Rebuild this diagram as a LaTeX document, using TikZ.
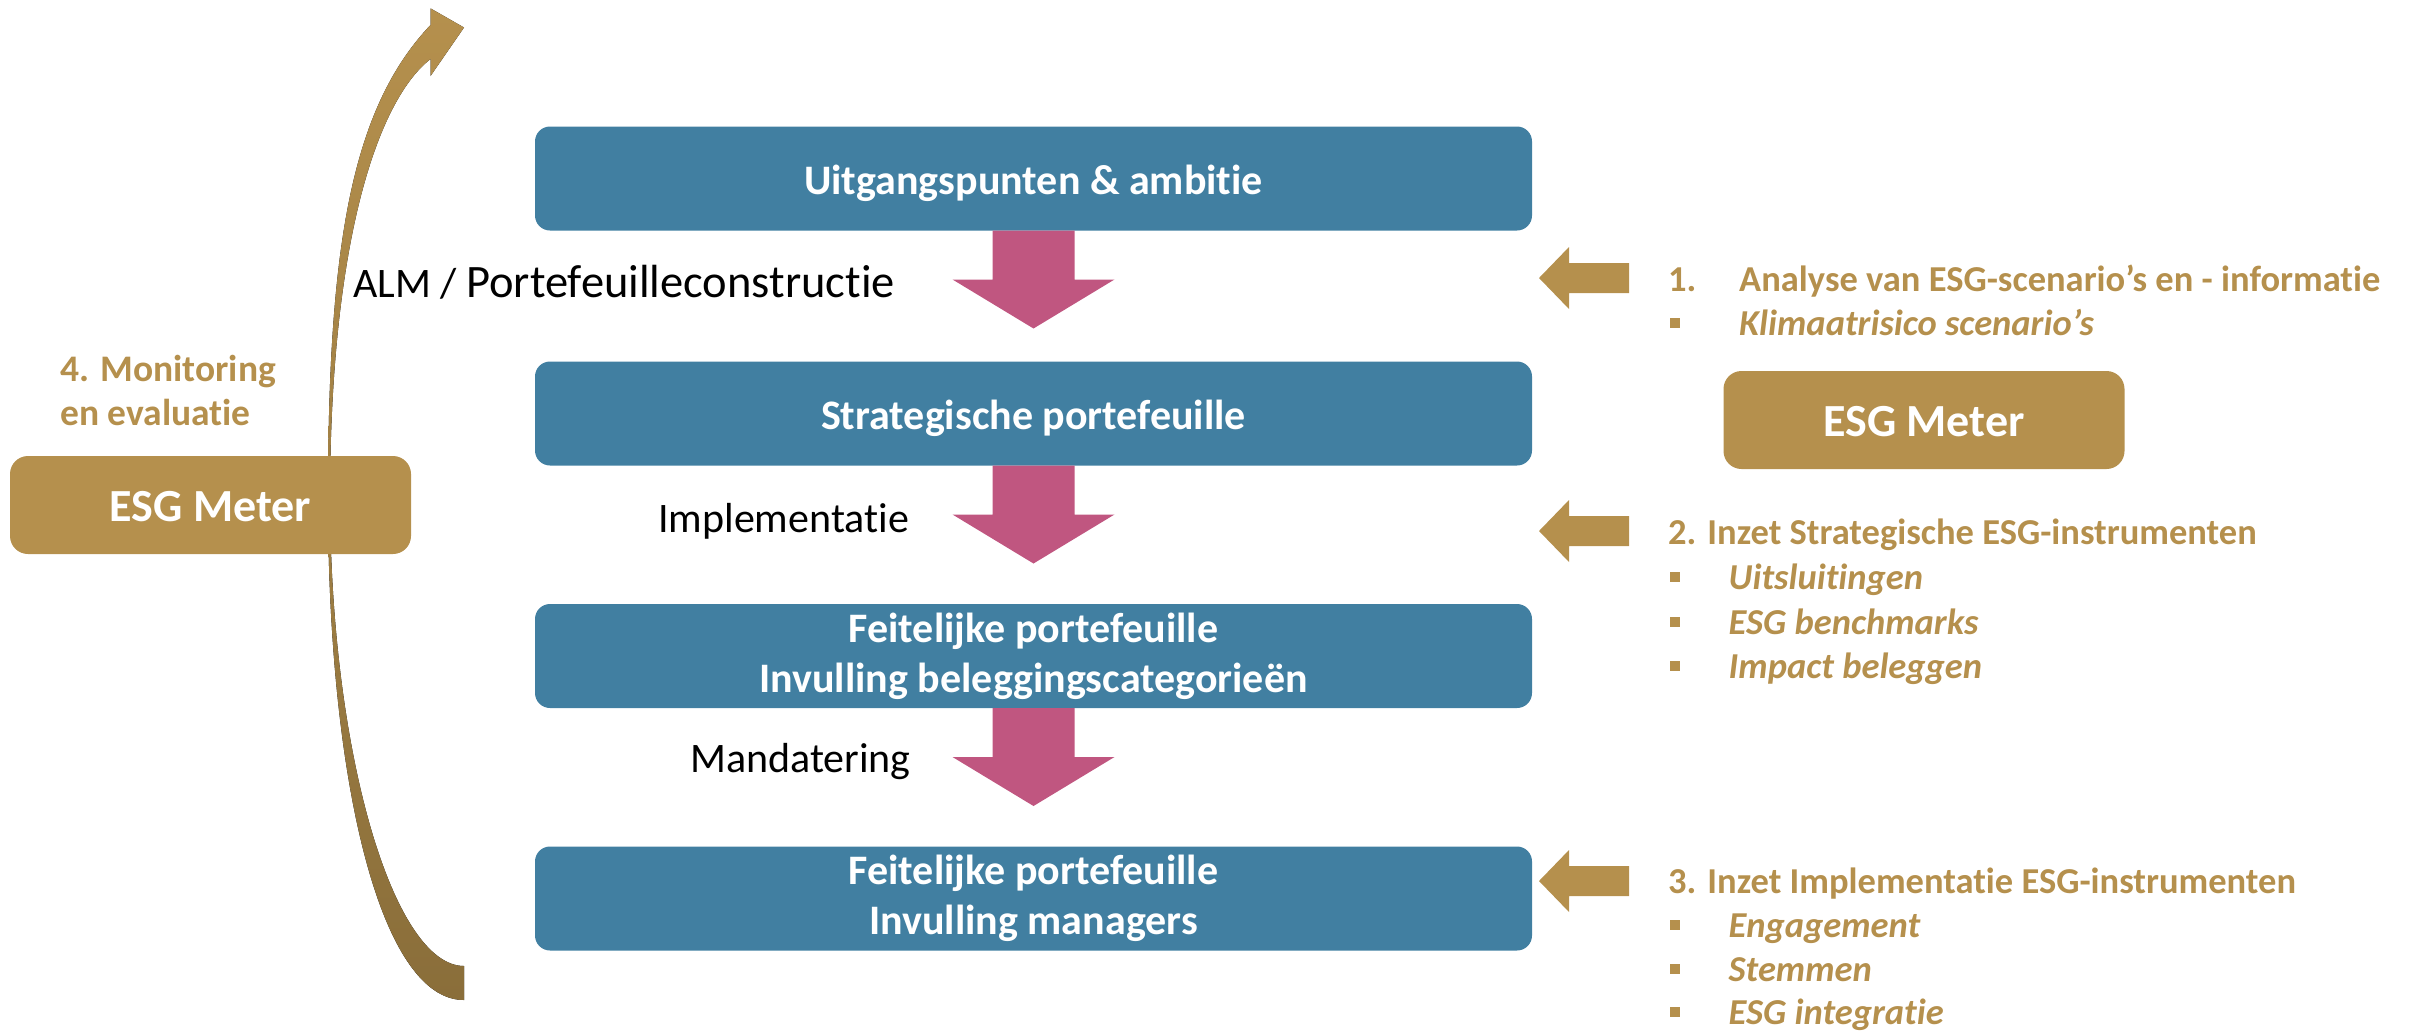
\documentclass[tikz,border=0pt]{standalone}
\usepackage{fontspec}
\setmainfont{Carlito}[Ligatures={TeX,NoCommon}]
\usetikzlibrary{calc}
\definecolor{boxblue}{RGB}{65,127,161}
\definecolor{arrpink}{RGB}{192,86,128}
\definecolor{gold}{RGB}{181,144,77}
\definecolor{golddark}{RGB}{138,110,58}
\newcommand{\mybullet}[1]{\makebox[#1pt][l]{\hspace{2pt}\rule[7.5pt]{10pt}{10pt}}}
\begin{document}
\begin{tikzpicture}[x=1pt,y=-1pt,
  flowbox/.style={fill=boxblue, rounded corners=15pt, minimum width=997pt, minimum height=104pt,
    inner sep=0pt, outer sep=0pt, text=white, font=\fontsize{42}{50}\selectfont\bfseries, align=center},
  esgbox/.style={fill=gold, rounded corners=18pt, minimum width=401pt, minimum height=98pt,
    inner sep=0pt, outer sep=0pt, text=white, font=\fontsize{46}{55}\selectfont\bfseries,
    text height=32pt, text depth=0pt},
  steplabel/.style={font=\fontsize{42}{50}\selectfont, inner sep=0pt, anchor=base west},
  goldhead/.style={font=\fontsize{36.5}{44}\selectfont\bfseries, text=gold, inner sep=0pt, anchor=base west},
  golditem/.style={font=\fontsize{36.5}{44}\selectfont\bfseries\itshape, text=gold, inner sep=0pt, anchor=base west},
  pinkfill/.style={fill=arrpink},
  goldfill/.style={fill=gold},
  curvefill/.style={top color=gold, middle color=gold, bottom color=golddark},
]
\useasboundingbox (0,0) rectangle (2420,1034);

% curved feedback arrow
\fill[curvefill] (464,966) .. controls (395,966) and (331,760) .. (330,500)
  .. controls (330,240) and (378,100) .. (430.5,59) -- (430.5,76) -- (464,27.5)
  -- (430.5,8.4) -- (430.5,25) .. controls (350,110) and (328,250) .. (328,500)
  .. controls (328,780) and (380,1000) .. (464,1000) -- cycle;

% main flow boxes
\node[flowbox, text height=31pt, text depth=0pt] (b1) at (1033.5,178.5) {Uitgangspunten \& ambitie};
\node[flowbox, text height=31pt, text depth=0pt] (b2) at (1033.5,413.5) {Strategische portefeuille};
\node[flowbox] (b3) at (1033.5,656) {Feitelijke portefeuille\\Invulling beleggingscategorieën};
\node[flowbox] (b4) at (1033.5,898.5) {Feitelijke portefeuille\\Invulling managers};

% pink arrows between boxes
\foreach \b in {b1,b2,b3}{
  \fill[pinkfill] ($(\b.south)+(-41,0)$) -- ++(0,49) -- ++(-40,0) -- ++(81,49)
    -- ++(81,-49) -- ++(-40,0) -- ++(0,-49) -- cycle;
}

% step labels
\node[steplabel] (alm) at (353,297) {ALM / {\fontsize{46.5}{52}\selectfont Portefeuilleconstructie}};
\node[steplabel] (impl) at (658,532) {Implementatie};
\node[steplabel] (mand) at (690,772) {Mandatering};

% gold input arrows
\foreach \yy in {278,531,881}{
  \fill[goldfill] (1539,\yy) -- ++(30,-31) -- ++(0,16) -- ++(60,0) -- ++(0,30)
    -- ++(-60,0) -- ++(0,16) -- cycle;
}

% right-hand texts
\node[goldhead] (h1) at (1668,291) {\makebox[71pt][l]{1.}Analyse van ESG-scenario’s en - informatie};
\node[golditem] (i11) at (1668,335) {\mybullet{71}Klimaatrisico scenario’s};
\node[esgbox] (esgR) at (1924,420) {ESG Meter};

\node[goldhead] (h2) at (1668,544) {2. Inzet Strategische ESG-instrumenten};
\node[golditem] (i21) at (1668,589) {\mybullet{60.5}Uitsluitingen};
\node[golditem] (i22) at (1668,634) {\mybullet{60.5}ESG benchmarks};
\node[golditem] (i23) at (1668,678) {\mybullet{60.5}Impact beleggen};

\node[goldhead] (h3) at (1668,893) {3. Inzet Implementatie ESG-instrumenten};
\node[golditem] (i31) at (1668,937) {\mybullet{60.5}Engagement};
\node[golditem] (i32) at (1668,981) {\mybullet{60.5}Stemmen};
\node[golditem] (i33) at (1668,1024) {\mybullet{60.5}ESG integratie};

% left side
\node[goldhead, font=\fontsize{37.5}{43.5}\selectfont\bfseries, align=left] (mon) at (60,425) {4. Monitoring\\en evaluatie};
\node[esgbox] (esgL) at (210.5,505) {ESG Meter};
\end{tikzpicture}
\end{document}
